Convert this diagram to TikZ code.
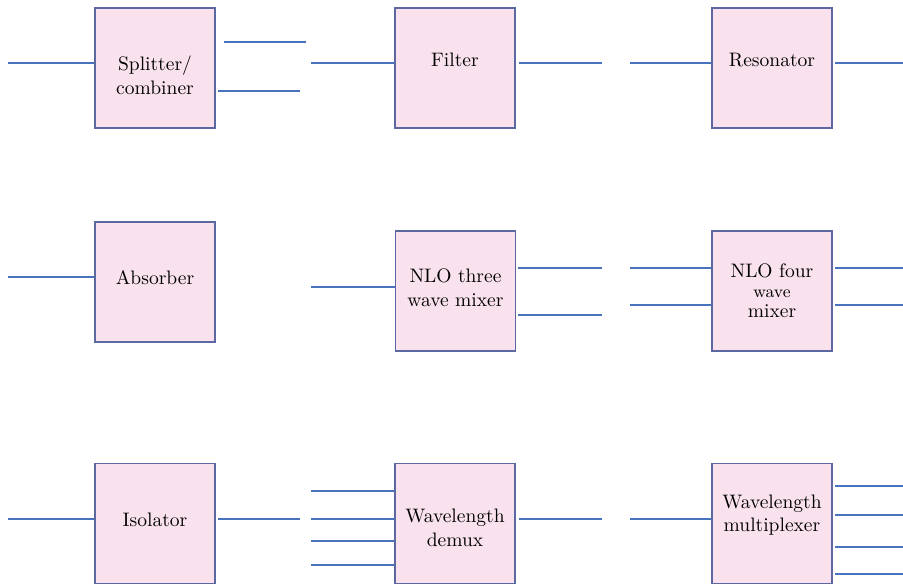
\documentclass[tikz,border=0pt]{standalone}
\definecolor{boxfill}{RGB}{249,226,238}
\definecolor{boxedge}{RGB}{92,104,160}
\definecolor{wireblue}{RGB}{72,114,190}
\tikzset{
  devbox/.style={draw=boxedge, fill=boxfill, line width=0.7pt, minimum width=60bp,
    minimum height=60bp, inner sep=0pt},
  boxtext/.style={inner sep=0pt, align=center, font=\fontsize{9.8}{12}\selectfont},
  wire/.style={draw=wireblue, line width=0.6pt}
}
\begin{document}
\begin{tikzpicture}[x=0.5bp, y=-0.5bp]
  \useasboundingbox (0,0) rectangle (903,584);
  % Top row
  \node[devbox, label={[boxtext, yshift=-3.5bp]center:Splitter/\\combiner}] (split) at (155,68) {};
  \node[devbox, label={[boxtext, yshift=4bp]center:Filter}] (filter) at (455,68) {};
  \node[devbox, label={[boxtext, yshift=4bp]center:Resonator}] (reson) at (772,68) {};
  % Middle row
  \node[devbox, label={[boxtext, yshift=2.2bp]center:Absorber}] (absorb) at (155,282) {};
  \node[devbox, label={[boxtext, yshift=1.8bp]center:NLO three\\wave mixer}] (three) at (455.5,291) {};
  \node[devbox, label={[boxtext, font=\fontsize{9.8}{10}\selectfont]center:NLO four\\{\fontsize{8.6}{10}\selectfont wave}\\mixer}] (four) at (772,291) {};
  % Bottom row
  \node[devbox, label={[boxtext, yshift=1.8bp]center:Isolator}] (isol) at (155,523.5) {};
  \node[devbox, label={[boxtext, yshift=-2bp]center:Wavelength\\demux}] (demux) at (455,523.5) {};
  \node[devbox, label={[boxtext, yshift=4.2bp]center:Wavelength\\multiplexer}] (mux) at (772,523.5) {};

  % Splitter/combiner
  \draw[wire] (8,63) coordinate (splitin) -- (split.west |- splitin);
  \draw[wire] (306,42) coordinate (splitout1) -- ([xshift=4bp]split.east |- splitout1);
  \draw[wire] (300,91) coordinate (splitout2) -- ([xshift=1bp]split.east |- splitout2);
  % Filter and resonator
  \draw[wire] (311,63) coordinate (filterin) -- (filter.west |- filterin);
  \draw[wire] (602,63) coordinate (filterout) -- ([xshift=1.5bp]filter.east |- filterout);
  \draw[wire] (630,63) coordinate (resonin) -- (reson.west |- resonin);
  \draw[wire] (903,63) coordinate (resonout) -- ([xshift=1bp]reson.east |- resonout);
  % Absorber
  \draw[wire] (8,277) coordinate (absorbin) -- (absorb.west |- absorbin);
  % NLO three wave mixer
  \draw[wire] (311,287) coordinate (threein) -- (three.west |- threein);
  \draw[wire] (602,268) coordinate (threeout1) -- ([xshift=1bp]three.east |- threeout1);
  \draw[wire] (602,315) coordinate (threeout2) -- ([xshift=1bp]three.east |- threeout2);
  % NLO four wave mixer
  \foreach \y/\n in {268/1, 305/2} {
    \draw[wire] (630,\y) coordinate (fourin\n) -- (four.west |- fourin\n);
    \draw[wire] (903,\y) coordinate (fourout\n) -- ([xshift=1bp]four.east |- fourout\n);
  }
  % Isolator
  \draw[wire] (8,519) coordinate (isolin) -- (isol.west |- isolin);
  \draw[wire] (300,519) coordinate (isolout) -- ([xshift=1bp]isol.east |- isolout);
  % Wavelength demux
  \foreach \y/\n in {491/1, 519/2, 541/3, 565/4}
    \draw[wire] (311,\y) coordinate (demuxin\n) -- (demux.west |- demuxin\n);
  \draw[wire] (602,519) coordinate (demuxout) -- ([xshift=1.5bp]demux.east |- demuxout);
  % Wavelength multiplexer
  \draw[wire] (630,519) coordinate (muxin) -- (mux.west |- muxin);
  \foreach \y/\n in {486/1, 515/2, 547/3, 574/4}
    \draw[wire] (903,\y) coordinate (muxout\n) -- ([xshift=1bp]mux.east |- muxout\n);
\end{tikzpicture}
\end{document}
